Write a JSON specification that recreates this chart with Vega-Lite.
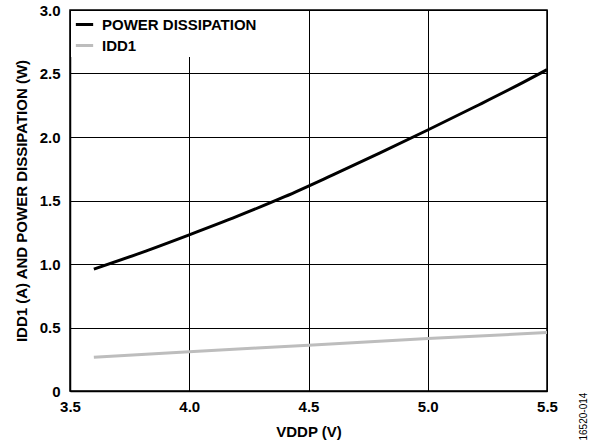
{
  "$schema": "https://vega.github.io/schema/vega-lite/v6.json",
  "width": 477,
  "height": 381,
  "autosize": {"type": "none"},
  "padding": {"left": 70, "top": 10, "right": 51, "bottom": 53},
  "background": "white",
  "config": {
    "font": "Liberation Sans",
    "view": {"stroke": "black", "strokeWidth": 1.5},
    "axis": {
      "labelFont": "Liberation Sans",
      "labelFontWeight": "bold",
      "labelFontSize": 15,
      "labelColor": "black",
      "labelFlush": false,
      "titleFont": "Liberation Sans",
      "titleFontWeight": "bold",
      "titleFontSize": 15,
      "titleColor": "black",
      "gridColor": "black",
      "gridOpacity": 1,
      "gridWidth": 1,
      "domainColor": "black",
      "domainWidth": 1.5,
      "ticks": false
    }
  },
  "data": {
    "values": [
      {"v": 3.6, "val": 0.96, "series": "POWER DISSIPATION"},
      {"v": 3.8, "val": 1.09, "series": "POWER DISSIPATION"},
      {"v": 4.0, "val": 1.23, "series": "POWER DISSIPATION"},
      {"v": 4.2, "val": 1.375, "series": "POWER DISSIPATION"},
      {"v": 4.4, "val": 1.53, "series": "POWER DISSIPATION"},
      {"v": 4.6, "val": 1.70, "series": "POWER DISSIPATION"},
      {"v": 4.8, "val": 1.875, "series": "POWER DISSIPATION"},
      {"v": 5.0, "val": 2.055, "series": "POWER DISSIPATION"},
      {"v": 5.2, "val": 2.24, "series": "POWER DISSIPATION"},
      {"v": 5.4, "val": 2.43, "series": "POWER DISSIPATION"},
      {"v": 5.5, "val": 2.53, "series": "POWER DISSIPATION"},
      {"v": 3.6, "val": 0.265, "series": "IDD1"},
      {"v": 4.0, "val": 0.31, "series": "IDD1"},
      {"v": 4.5, "val": 0.36, "series": "IDD1"},
      {"v": 5.0, "val": 0.413, "series": "IDD1"},
      {"v": 5.5, "val": 0.46, "series": "IDD1"}
    ]
  },
  "layer": [
    {
      "mark": {"type": "line", "strokeWidth": 3, "clip": true, "interpolate": "monotone"},
      "encoding": {
        "x": {
          "field": "v", "type": "quantitative",
          "scale": {"domain": [3.5, 5.5], "nice": false, "zero": false},
          "axis": {"values": [3.5, 4.0, 4.5, 5.0, 5.5], "format": ".1f", "title": "VDDP (V)", "labelPadding": 8, "titlePadding": 10}
        },
        "y": {
          "field": "val", "type": "quantitative",
          "scale": {"domain": [0, 3.0], "nice": false},
          "axis": {"values": [0, 0.5, 1.0, 1.5, 2.0, 2.5, 3.0], "labelExpr": "datum.value == 0 ? '0' : format(datum.value, '.1f')", "title": "IDD1 (A) AND POWER DISSIPATION (W)", "labelPadding": 10, "titlePadding": 10}
        },
        "color": {
          "field": "series", "type": "nominal",
          "scale": {"domain": ["POWER DISSIPATION", "IDD1"], "range": ["#000000", "#bdbdbd"]},
          "legend": {
            "title": null,
            "orient": "top-left",
            "offset": 1,
            "padding": 3,
            "fillColor": "white",
            "symbolType": "stroke",
            "symbolSize": 300,
            "symbolStrokeWidth": 3,
            "labelFont": "Liberation Sans",
            "labelFontWeight": "bold",
            "labelFontSize": 15,
            "labelColor": "black",
            "labelOffset": 7,
            "rowPadding": 2
          }
        }
      }
    },
    {
      "mark": {"type": "line", "opacity": 0},
      "encoding": {
        "x": {"field": "v", "type": "quantitative"},
        "y": {
          "field": "val", "type": "quantitative",
          "axis": {"orient": "right", "labels": false, "domain": false, "grid": false, "ticks": false, "title": "16520-014", "titleAngle": 270, "titleFontWeight": "normal", "titleFontSize": 10, "titleAnchor": "start", "titlePadding": 41, "titleY": 430, "titleAlign": "left"}
        }
      }
    }
  ],
  "resolve": {"axis": {"y": "independent"}}
}
